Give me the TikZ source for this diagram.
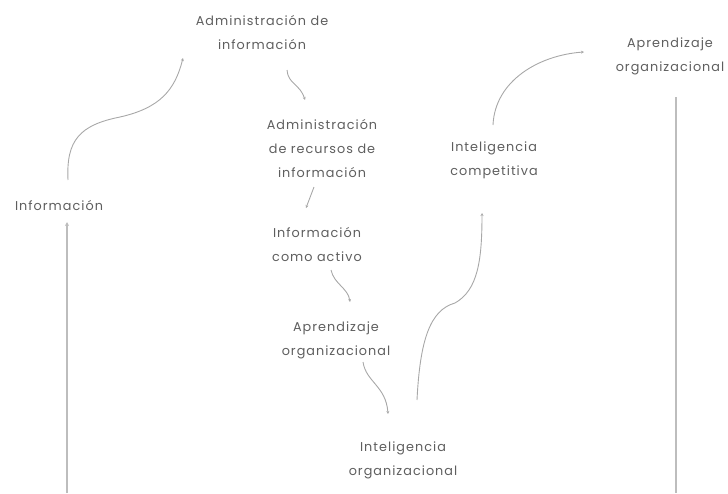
\documentclass[tikz,border=0pt]{standalone}
\usepackage{fontspec}
\setmainfont{Poppins}[LetterSpace=8]
\usetikzlibrary{arrows.meta,calc}
\definecolor{txtgray}{HTML}{5E5E5E}
\definecolor{lngray}{HTML}{A8A8A8}
\definecolor{vgray}{HTML}{BDBDBD}
\tikzset{
  lbl/.style={text=txtgray, align=center, inner sep=0pt, font=\fontsize{12.8}{24}\selectfont},
  conn/.style={draw=lngray, line width=0.9pt, -{Stealth[length=3pt,width=3pt]}},
  vline/.style={draw=vgray, line width=2pt}
}
\begin{document}
\begin{tikzpicture}[x=1pt,y=-1pt]
\useasboundingbox (0,0) rectangle (728,493);
\node[lbl] (admin) at (262,33) {Administración de\\información};
\node[lbl] (arinfo) at (322,149) {Administración\\de recursos de\\información};
\node[lbl] (actv) at (317,245) {Información\\como activo};
\node[lbl] (apr1) at (336,340) {Aprendizaje\\organizacional};
\node[lbl] (intorg) at (403,460) {Inteligencia\\organizacional};
\node[lbl] (intcomp) at (494,160) {Inteligencia\\competitiva};
\node[lbl] (apr2) at (670,56) {Aprendizaje\\organizacional};
\node[lbl] (info) at (59,206) {Información};
\coordinate (bl) at (67,493);
\coordinate (br) at (676,493);
% connectors
\draw[conn] ($(info)+(9,-26)$) .. controls (66,140) and (80,125) .. (120,117) .. controls (160,108) and (175,90) .. ($(admin)+(-79,25)$);
\draw[conn] ($(admin)+(25,37)$) .. controls (288,84) and (300,84) .. ($(arinfo)+(-17,-49)$);
\draw[conn] ($(arinfo)+(-8,38)$) -- ($(actv)+(-11,-37)$);
\draw[conn] ($(actv)+(14,25)$) .. controls (334,284) and (348,288) .. ($(apr1)+(14,-38)$);
\draw[conn] ($(apr1)+(27,22)$) .. controls (366,382) and (386,386) .. ($(intorg)+(-15,-46)$);
\draw[conn] ($(intorg)+(14,-60)$) .. controls (420,340) and (430,310) .. (455,303) .. controls (478,290) and (482,260) .. ($(intcomp)+(-12,53)$);
\draw[conn] ($(intcomp)+(-1,-35)$) .. controls (495,80) and (540,55) .. ($(apr2)+(-86,-4)$);
\draw[vline] ($(apr2)+(6,41)$) -- (br);
\draw[vline, -{Stealth[length=4pt,width=4pt]}] (bl) -- ($(info)+(8,16)$);
\end{tikzpicture}
\end{document}
